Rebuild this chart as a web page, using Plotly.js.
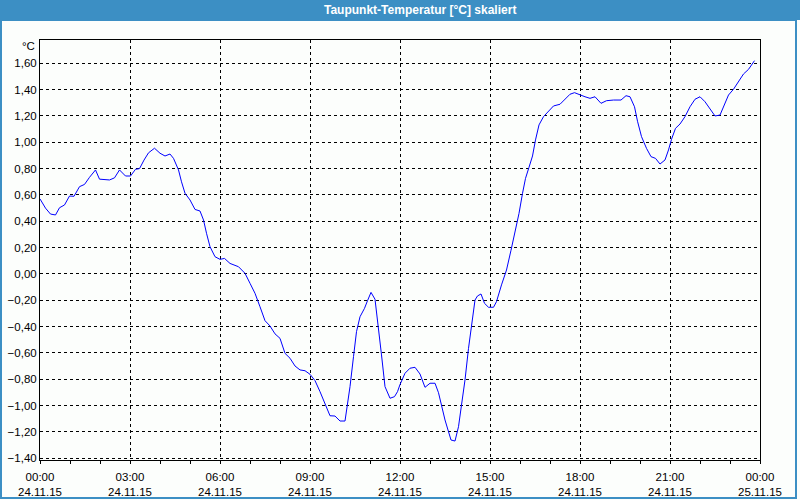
<!DOCTYPE html>
<html>
<head>
<meta charset="utf-8">
<script src="https://cdn.plot.ly/plotly-3.0.1.min.js"></script>
<style>
html,body{margin:0;padding:0;background:#fcfefc;}
#chart{width:800px;height:500px;}
</style>
</head>
<body>
<div id="chart"></div>
<script>
// minutes after 24.11.15 00:00
const minutes = [0,11,21,31,39,49,59,68,79,89,99,111,119,139,149,159,171,181,191,199,208,217,229,240,250,260,267,277,283,290,300,310,320,327,333,340,350,360,369,380,397,410,420,430,440,450,460,470,480,490,500,510,520,530,540,550,560,570,580,590,600,610,615,620,627,633,640,649,655,662,670,677,683,690,700,709,715,720,730,740,750,760,770,780,790,797,803,810,817,822,830,837,843,850,857,863,870,875,882,889,897,907,913,923,933,942,950,958,965,971,978,985,991,998,1007,1017,1027,1040,1050,1060,1069,1080,1090,1100,1110,1122,1133,1147,1162,1172,1180,1189,1195,1203,1213,1222,1231,1240,1250,1257,1263,1271,1280,1290,1300,1310,1320,1330,1340,1350,1360,1367,1377,1387,1397,1407,1417,1429];
const dewpoint = [0.57,0.50,0.455,0.448,0.503,0.524,0.592,0.59,0.663,0.68,0.734,0.79,0.72,0.714,0.73,0.79,0.744,0.744,0.795,0.80,0.865,0.92,0.955,0.917,0.896,0.911,0.878,0.79,0.70,0.613,0.562,0.49,0.478,0.41,0.309,0.207,0.131,0.111,0.118,0.08,0.055,0.005,-0.071,-0.147,-0.249,-0.355,-0.395,-0.455,-0.489,-0.603,-0.64,-0.699,-0.729,-0.735,-0.762,-0.81,-0.894,-0.982,-1.077,-1.079,-1.117,-1.117,-0.995,-0.856,-0.628,-0.438,-0.325,-0.261,-0.203,-0.14,-0.192,-0.40,-0.615,-0.856,-0.944,-0.932,-0.894,-0.84,-0.754,-0.716,-0.709,-0.76,-0.861,-0.83,-0.83,-0.902,-1.008,-1.109,-1.198,-1.261,-1.269,-1.16,-0.995,-0.805,-0.565,-0.375,-0.198,-0.167,-0.152,-0.223,-0.253,-0.253,-0.21,-0.083,0.03,0.18,0.314,0.46,0.612,0.726,0.81,0.896,1.018,1.132,1.195,1.238,1.276,1.289,1.327,1.365,1.377,1.359,1.346,1.334,1.346,1.296,1.316,1.321,1.321,1.354,1.346,1.27,1.16,1.043,0.954,0.891,0.878,0.835,0.866,0.942,1.023,1.106,1.139,1.195,1.27,1.327,1.346,1.308,1.258,1.2,1.207,1.266,1.359,1.403,1.46,1.519,1.554,1.62];
const yTicks = [-1.4,-1.2,-1.0,-0.8,-0.6,-0.4,-0.2,0,0.2,0.4,0.6,0.8,1.0,1.2,1.4,1.6];
const chartTitle = 'Taupunkt-Temperatur [°C] skaliert';
const unitLabel = '°C';

function pad(n){return (n<10?'0':'')+n;}
const times = minutes.map(m => '2015-11-24 ' + pad(Math.floor(m/60)) + ':' + pad(m%60));

const W = 720, H = 420, L = 40, T = 40;
const px = x => (x - L) / W;
const py = y => (T + H - y) / H;

const blue = '#3c8fc4';
const font = 'Liberation Sans, Arial, sans-serif';

const trace = {
  x: times, y: dewpoint, type: 'scatter', mode: 'lines',
  line: {color: '#0000ff', width: 1}, hoverinfo: 'skip'
};

const layout = {
  width: 800, height: 500,
  margin: {l: 40, r: 40, t: 40, b: 40, pad: 0},
  paper_bgcolor: '#fcfefc', plot_bgcolor: '#fcfefc',
  separators: ',.',
  showlegend: false,
  font: {family: font, size: 11, color: '#000'},
  xaxis: {
    type: 'date',
    range: ['2015-11-24 00:00', '2015-11-25 00:00'],
    tick0: '2015-11-24 00:00', dtick: 3*3600000,
    tickformat: '%H:%M<br>%d.%m.%y',
    ticks: 'outside', ticklen: 3, tickcolor: '#000', tickwidth: 1,
    ticklabelstandoff: 3,
    minor: {dtick: 3600000, ticks: 'outside', ticklen: 3, tickcolor: '#000', showgrid: false},
    showgrid: true, gridcolor: '#000', gridwidth: 1, griddash: '3px,3px',
    showline: true, mirror: true, linecolor: '#000', linewidth: 1,
    zeroline: false, fixedrange: true,
    tickfont: {family: font, size: 11.5, color: '#000'}
  },
  yaxis: {
    range: [-1.413, 1.777],
    tickmode: 'array', tickvals: yTicks, tickformat: '.2f',
    ticks: '', showgrid: true, gridcolor: '#000', gridwidth: 1, griddash: '3px,3px',
    showline: true, mirror: true, linecolor: '#000', linewidth: 1,
    zeroline: false, fixedrange: true,
    tickfont: {family: font, size: 11.5, color: '#000'}
  },
  shapes: [
    {type: 'rect', xref: 'paper', yref: 'paper', x0: px(0), x1: px(800), y0: py(20), y1: py(0),
     fillcolor: blue, line: {width: 0}, layer: 'above'},
    {type: 'rect', xref: 'paper', yref: 'paper', x0: px(1), x1: px(796), y0: py(498), y1: py(20),
     fillcolor: 'rgba(0,0,0,0)', line: {color: blue, width: 2}, layer: 'above'}
  ],
  annotations: [
    {text: '<b>' + chartTitle + '</b>', xref: 'paper', yref: 'paper', x: px(420), y: py(10),
     xanchor: 'center', yanchor: 'middle', showarrow: false,
     font: {family: font, size: 12, color: '#ffffff'}},
    {text: unitLabel, xref: 'paper', yref: 'paper', x: px(37), y: py(46),
     xanchor: 'right', yanchor: 'middle', showarrow: false,
     font: {family: font, size: 11.5, color: '#000'}}
  ]
};

Plotly.newPlot('chart', [trace], layout, {staticPlot: true, displayModeBar: false});
</script>
</body>
</html>
